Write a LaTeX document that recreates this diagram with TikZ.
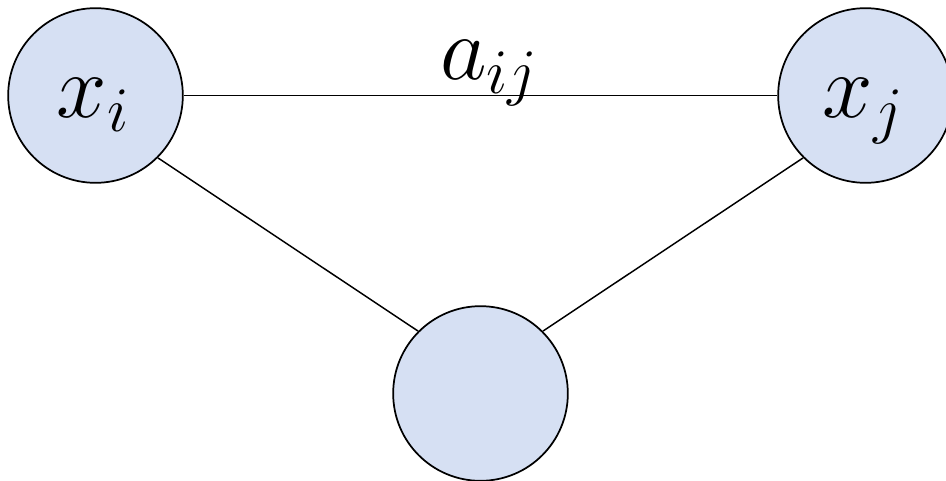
\RequirePackage{fix-cm}
\documentclass[tikz,border=0pt]{standalone}
\definecolor{nodefill}{HTML}{D6E0F3}
\begin{document}
\begin{tikzpicture}[x=0.75pt,y=-0.75pt,
  vert/.style={circle,draw=black,line width=1.3pt,fill=nodefill,minimum size=131pt,inner sep=0pt},
  edge/.style={line width=1.1pt},
  bigmath/.style={font=\fontsize{68}{80}\selectfont}]
\useasboundingbox (0,0) rectangle (946,481);
\clip (0,0) rectangle (946,481);
\node[vert] (xi) at (95.5,95.5) {};
\node[vert] (xj) at (865.5,95.5) {};
\node[vert] (xk) at (480.5,393.5) {};
\draw[edge] (xi.east) -- (xj.west);
\draw[edge] (xi.south east) -- (xk.north west);
\draw[edge] (xj.south west) -- (xk.north east);
\node[bigmath,anchor=base,inner sep=0pt] (li) at (93,118) {$x_i$};
\node[bigmath,anchor=base,inner sep=0pt] (lj) at (863,118) {$x_j$};
\node[bigmath,anchor=base,inner sep=0pt] (aij) at (489,80) {$a_{ij}$};
\end{tikzpicture}
\end{document}
